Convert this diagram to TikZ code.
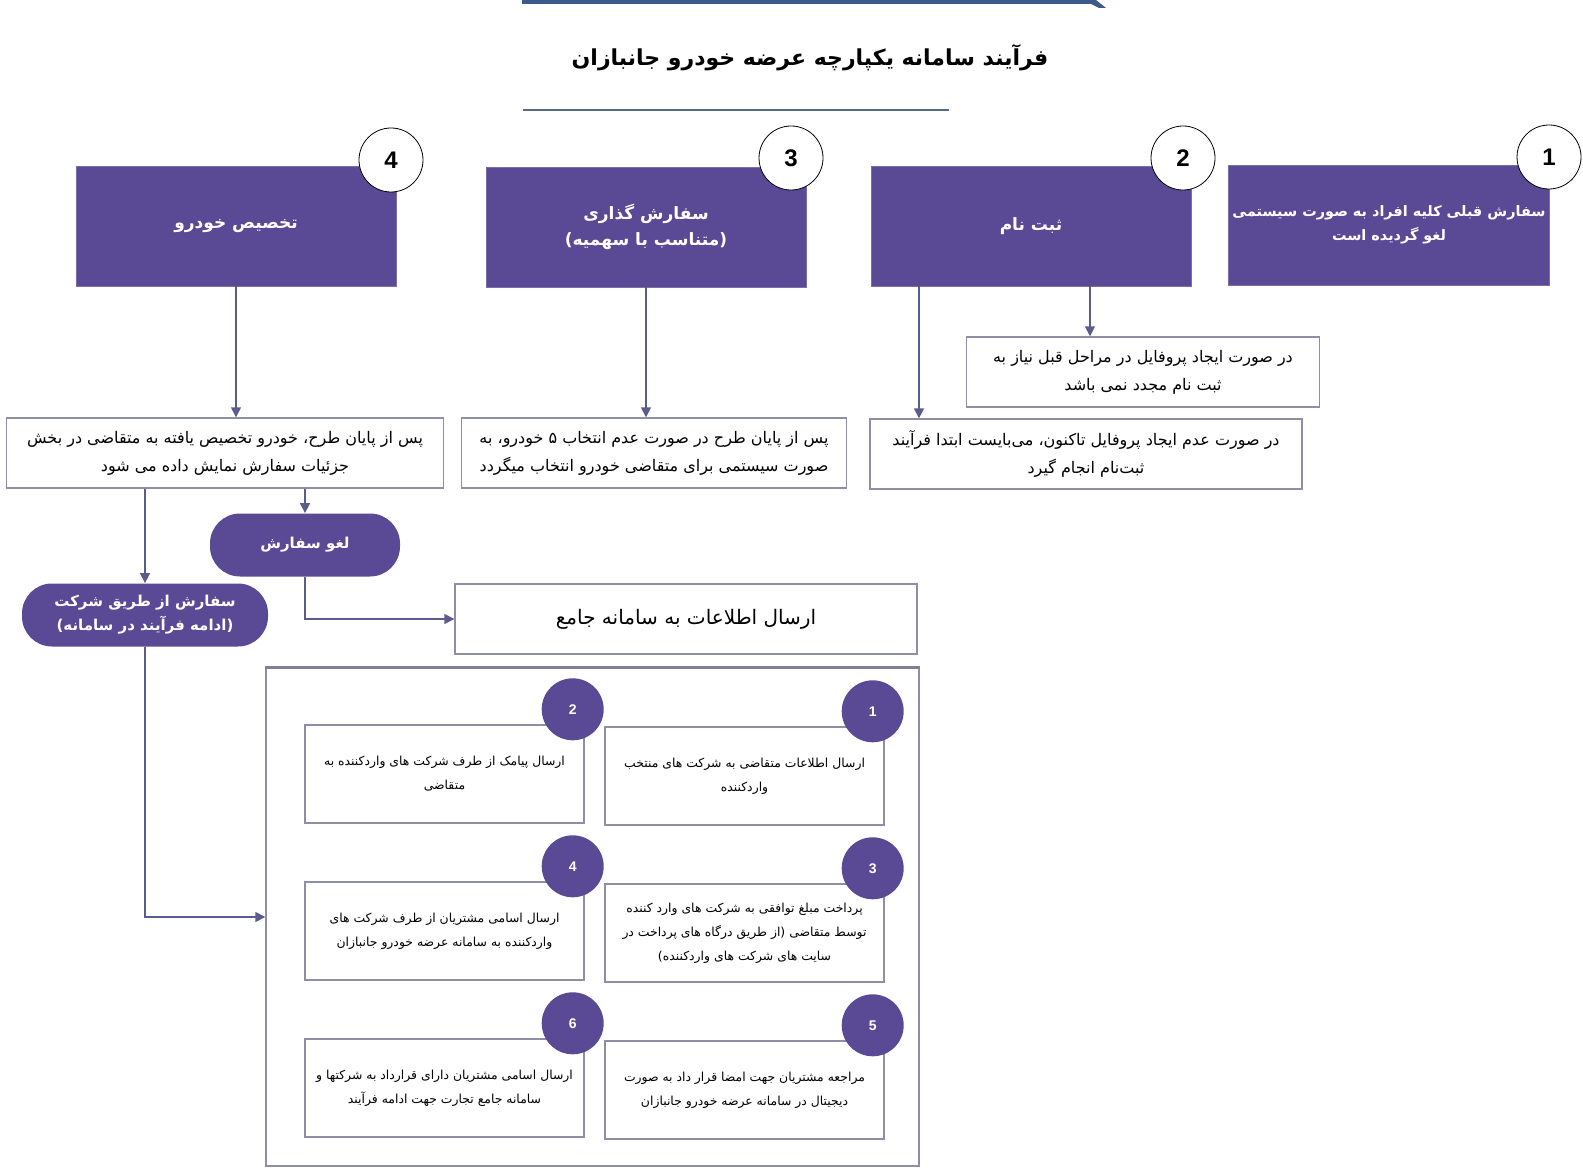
\documentclass[tikz,border=0pt]{standalone}
\usepackage{fontspec}
\usepackage{xcolor}
\usepackage{tikz}
\usetikzlibrary{arrows.meta,positioning,calc}
\TeXXeTstate=1
\newfontfamily\arabicfont[Script=Arabic]{DejaVu Sans}
\newfontfamily\numfont{Liberation Sans}
\definecolor{stepviolet}{HTML}{5A4A96}
\definecolor{linkgray}{HTML}{5C5C8C}
\definecolor{framegray}{HTML}{8E8EA6}
\definecolor{titleblue}{HTML}{3D5A8C}
\newcommand{\fa}[1]{\beginR #1\endR}

\begin{document}
\begin{tikzpicture}[x=0.5pt,y=-0.5pt,
  stepbox/.style={fill=stepviolet,draw=stepviolet!80!white,minimum width=160pt,minimum height=60pt,
    align=center,text=white,font=\arabicfont\bfseries\fontsize{8.5}{13}\selectfont},
  stepnum/.style={circle,draw=black,fill=white,minimum size=32pt,inner sep=0pt,
    font=\numfont\bfseries\fontsize{12}{12}\selectfont},
  notebox/.style={draw=framegray,line width=0.7pt,minimum height=35pt,align=center,
    font=\arabicfont\fontsize{8}{14}\selectfont},
  pill/.style={fill=stepviolet,rounded corners=15pt,minimum height=31.5pt,align=center,
    text=white,font=\arabicfont\bfseries\fontsize{7.5}{12}\selectfont},
  subbox/.style={draw=framegray,line width=0.7pt,minimum width=139.5pt,minimum height=49pt,
    align=center,font=\arabicfont\fontsize{6.2}{12}\selectfont},
  subnum/.style={circle,fill=stepviolet,minimum size=31pt,inner sep=0pt,text=white,
    font=\numfont\bfseries\fontsize{7}{7}\selectfont},
  arr/.style={linkgray,line width=0.8pt,-{Triangle[width=5pt,length=5pt]}}]
  \useasboundingbox (0,0) rectangle (1583,1170);

  % title
  \fill[titleblue] (522,0) -- (1096,0) -- (1106,8) -- (1099,8) -- (1091,4) -- (522,4) -- cycle;
  \node[font=\arabicfont\bfseries\fontsize{11}{11}\selectfont] (title) at (810,58)
    {\fa{فرآیند سامانه یکپارچه عرضه خودرو جانبازان}};
  \draw[titleblue!60!gray,line width=0.8pt] (523,110) -- (949,110);

  % main steps
  \node[stepbox,inner sep=2pt,font=\arabicfont\bfseries\fontsize{7.2}{12}\selectfont] (box1) at (1389,225)
    {\fa{سفارش قبلی کلیه افراد به صورت سیستمی}\\\fa{لغو گردیده است}};
  \node[stepbox] (box2) at (1031,226) {\fa{ثبت نام}};
  \node[stepbox] (box3) at (646,227) {\fa{سفارش گذاری}\\\fa{(متناسب با سهمیه)}};
  \node[stepbox] (box4) at (236,226) {\fa{تخصیص خودرو}};
  \foreach \n/\cx/\cy in {1/1549/157, 2/1183/158, 3/791/158, 4/391/160}
    \node[stepnum] (c\n) at (\cx,\cy) {\n};

  % notes
  \node[notebox,minimum width=176.5pt] (t2a) at (1143,372)
    {\fa{در صورت ایجاد پروفایل در مراحل قبل نیاز به}\\\fa{ثبت نام مجدد نمی باشد}};
  \node[notebox,minimum width=216pt] (t2b) at (1086,454)
    {\fa{در صورت عدم ایجاد پروفایل تاکنون، می‌بایست ابتدا فرآیند}\\\fa{ثبت‌نام انجام گیرد}};
  \node[notebox,minimum width=192.5pt] (t3) at (654,453)
    {\fa{پس از پایان طرح در صورت عدم انتخاب ۵ خودرو، به}\\\fa{صورت سیستمی برای متقاضی خودرو انتخاب میگردد}};
  \node[notebox,minimum width=218.5pt] (t4) at (225,453)
    {\fa{پس از پایان طرح، خودرو تخصیص یافته به متقاضی در بخش}\\\fa{جزئیات سفارش نمایش داده می شود}};

  \draw[arr] (box4.south) -- (box4.south |- t4.north);
  \draw[arr] (box3.south) -- (box3.south |- t3.north);
  \draw[arr] (1090,0 |- box2.south) -- (1090,0 |- t2a.north);
  \draw[arr] (919,0 |- box2.south) -- (919,0 |- t2b.north);

  % cancel / company
  \node[pill,minimum width=95pt] (cancel) at (305,545) {\fa{لغو سفارش}};
  \node[pill,minimum width=123pt] (company) at (145,615) {\fa{سفارش از طریق شرکت}\\\fa{(ادامه فرآیند در سامانه)}};
  \node[draw=framegray,line width=0.7pt,minimum width=231pt,minimum height=35pt,
    font=\arabicfont\fontsize{10}{12}\selectfont] (jamee) at (686,619) {\fa{ارسال اطلاعات به سامانه جامع}};

  \draw[arr] (t4.south -| cancel.north) -- (cancel.north);
  \draw[arr] (t4.south -| company.north) -- (company.north);
  \draw[arr] (cancel.south) |- (jamee.west);

  % sub steps
  \node[draw=framegray,line width=0.7pt,minimum width=326.5pt,minimum height=249pt] (frame) at (592.5,917) {};
  \draw[framegray!90!black,line width=1.4pt] (frame.north west) -- (frame.north east);
  \draw[arr] (company.south) |- (frame.west);

  \foreach \n/\cx/\cy/\txt in {
    1/744.5/776/{\fa{ارسال اطلاعات متقاضی به شرکت های منتخب}\\\fa{واردکننده}},
    2/444.5/774/{\fa{ارسال پیامک از طرف شرکت های واردکننده به}\\\fa{متقاضی}},
    3/744.5/933/{\fa{پرداخت مبلغ توافقی به شرکت های وارد کننده}\\\fa{توسط متقاضی (از طریق درگاه های پرداخت در}\\\fa{سایت های شرکت های واردکننده)}},
    4/444.5/931/{\fa{ارسال اسامی مشتریان از طرف شرکت های}\\\fa{واردکننده به سامانه عرضه خودرو جانبازان}},
    5/744.5/1090/{\fa{مراجعه مشتریان جهت امضا قرار داد به صورت}\\\fa{دیجیتال در سامانه عرضه خودرو جانبازان}},
    6/444.5/1088/{\fa{ارسال اسامی مشتریان دارای قرارداد به شرکتها و}\\\fa{سامانه جامع تجارت جهت ادامه فرآیند}}} {
    \node[subbox] (sub\n) at (\cx,\cy) {\txt};
    \node[subnum] (num\n) at ($(sub\n.north east)+(-12,-15)$) {\n};
  }
\end{tikzpicture}
\end{document}
